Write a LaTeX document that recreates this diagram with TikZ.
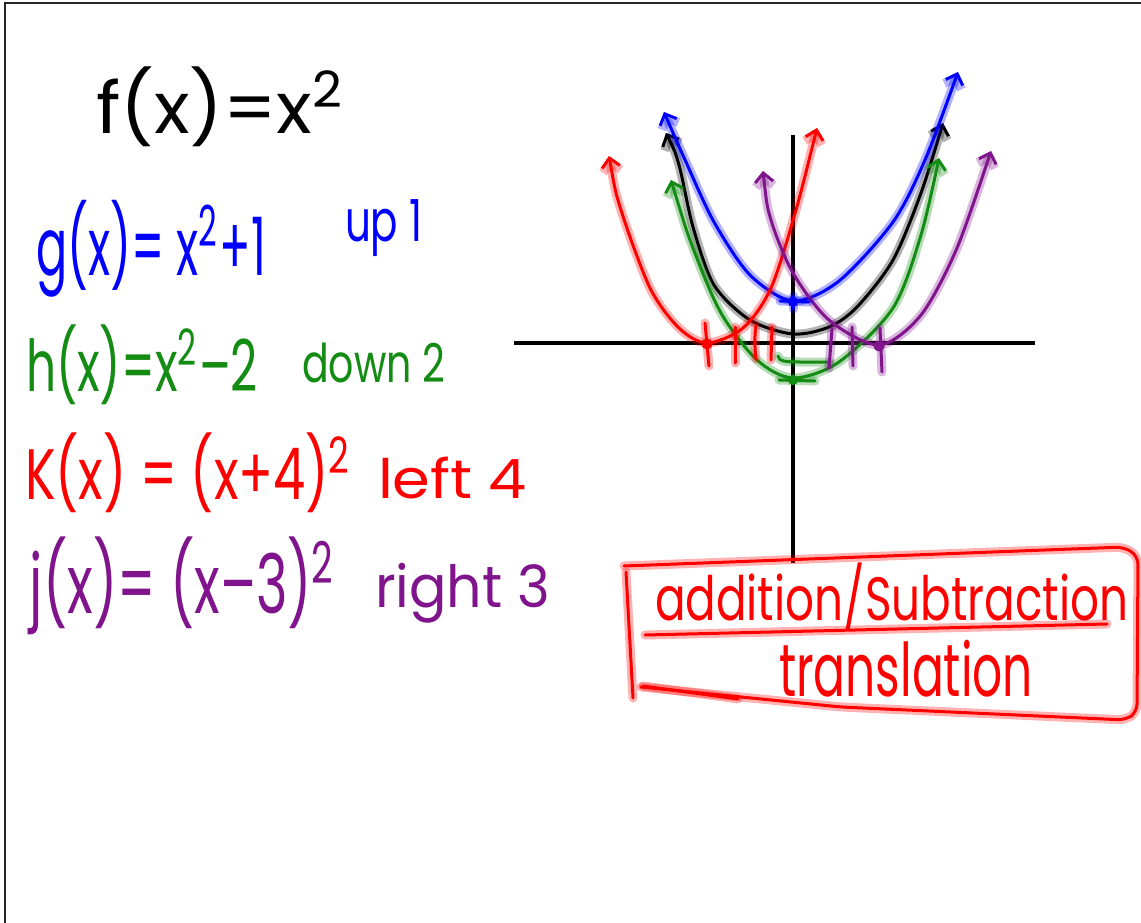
\documentclass[tikz,border=0pt]{standalone}
\usepackage{fontspec}
\setmainfont{Poppins}
\usepackage{graphicx}
\usetikzlibrary{arrows.meta}
\definecolor{pblue}{RGB}{0,0,255}
\definecolor{pgreen}{RGB}{20,140,20}
\definecolor{pred}{RGB}{255,0,0}
\definecolor{ppurple}{RGB}{128,20,140}
\newcommand\pen[2]{%
  \draw[#1,line width=9pt,opacity=0.3,line cap=round,line join=round]#2;
  \draw[#1,line width=3pt,line cap=round,line join=round]#2;}
\newcommand\fitbox[3]{\resizebox*{#1pt}{#2pt}{#3}}
\begin{document}
\begin{tikzpicture}[x=1pt,y=-1pt,
  barbs/.style={{Straight Barb[length=9pt,width=18pt]}-{Straight Barb[length=9pt,width=18pt]}},
  txt/.style={anchor=north west,inner sep=0pt,outer sep=0pt}]
\useasboundingbox (0,0) rectangle (1141,923);
\fill[white] (0,0) rectangle (1141,923);
% frame
\draw[line width=2.5pt,black!85] (5,923) -- (5,3) -- (1141,3);

% axes
\draw[line width=3.4pt] (514,343) -- (1035,343);
\draw[line width=3.4pt] (793,135) -- (793,563);

% parabolas
\pen{black,barbs}{plot[smooth] coordinates{(666,133) (679,165) (693,227) (714,285) (750,320) (793,334) (829,327) (857,307) (893,260) (921,193) (943,123)}}
\pen{pblue,barbs}{plot[smooth] coordinates{(664,112) (686,162) (714,222) (750,275) (793,301) (839,281) (893,222) (925,160) (958,72)}}
\pen{pgreen,barbs}{plot[smooth] coordinates{(671,180) (693,248) (721,313) (757,360) (793,378) (839,362) (893,308) (921,235) (939,158)}}
\pen{pred,barbs}{plot[smooth] coordinates{(609,156) (621,210) (650,288) (679,328) (707,343) (743,328) (771,288) (796,210) (817,128)}}
\pen{ppurple,barbs}{plot[smooth] coordinates{(763,171) (771,220) (793,273) (829,320) (879,345) (921,315) (957,248) (991,151)}}

% vertices and ticks
\coordinate (vb) at (793,302);
\coordinate (vg) at (793,380);
\coordinate (vr) at (707,344);
\coordinate (vp) at (879,346);
\pen{pblue}{(780,301) -- (809,302)}
\pen{pblue}{(793,296) -- (793,309)}
\fill[pblue] (vb) circle (5);
\pen{pgreen}{(779,380) -- (815,381)}
\pen{pgreen}{(778,356) .. controls (779,361) and (784,362) .. (800,362) -- (830,362)}
\fill[pgreen] (vg) circle (5);
\pen{pred}{(705,323) -- (709,366)}
\pen{pred}{(735,327) -- (735,363)}
\pen{pred}{(756,325) .. controls (754,340) and (755,350) .. (756,359)}
\pen{pred}{(772,327) -- (771,360)}
\fill[pred] (vr) circle (5.5);
\pen{ppurple}{(832,329) -- (829,368)}
\pen{ppurple}{(852,327) -- (853,366)}
\pen{ppurple}{(880,328) -- (882,372)}
\fill[ppurple] (vp) circle (5.5);

% equations
\node[txt,text=black] (ftxt) at (96,67) {\fitbox{250}{80}{f(x)=x\textsuperscript{2}}};
\node[txt,text=pblue] (gtxt) at (36,200) {\fitbox{230}{97}{g(x)= x\textsuperscript{2}+1}};
\node[txt,text=pblue] (gnote) at (345,200) {\fitbox{77}{57}{up 1}};
\node[txt,text=pgreen] (htxt) at (26,325) {\fitbox{232}{80}{h(x)=x\textsuperscript{2}--2}};
\node[txt,text=pgreen] (hnote) at (302,343) {\fitbox{143}{40}{down 2}};
\node[txt,text=pred] (ktxt) at (25,433) {\fitbox{327}{80}{K(x) = (x+4)\textsuperscript{2}}};
\node[txt,text=pred] (knote) at (378,457) {\fitbox{149}{42}{left 4}};
\node[txt,text=ppurple] (jtxt) at (30,537) {\fitbox{306}{98}{j(x)= (x--3)\textsuperscript{2}}};
\node[txt,text=ppurple] (jnote) at (375,563) {\fitbox{175}{60}{right 3}};

% red box
\pen{pred}{[rounded corners=8pt] (624,566) -- (1124,547) -- (1138,556) -- (1137,712) -- (1126,720) -- (841,707) -- (641,687)}
\pen{pred}{(626,572) -- (633,698)}
\pen{pred}{(643,686) -- (738,699)}
\pen{pred}{(645,635) -- (1107,624)}
\node[txt,text=pred] (boxtop) at (655,563) {\fitbox{473}{68}{addition/Subtraction}};
\node[txt,text=pred] (boxbot) at (779,640) {\fitbox{254}{57}{translation}};
\end{tikzpicture}
\end{document}
